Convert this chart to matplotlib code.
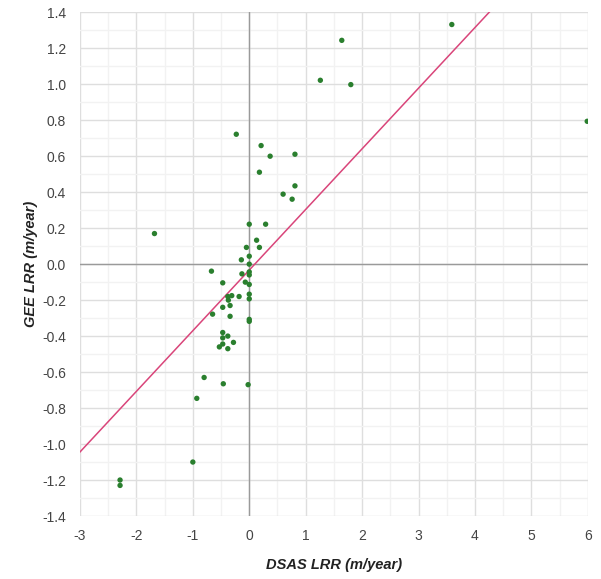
import matplotlib
matplotlib.use('Agg')
import matplotlib.pyplot as plt
from matplotlib.ticker import MultipleLocator

# DSAS LRR (x) vs GEE LRR (y), m/year
dsas_lrr = [
    -2.29, -2.29, -1.68, -1.00, -0.93, -0.80, -0.67, -0.65, -0.53, -0.47,
    -0.47, -0.47, -0.47, -0.47, -0.46, -0.38, -0.38, -0.38, -0.37, -0.34,
    -0.34, -0.31, -0.28, -0.23, -0.18, -0.14, -0.13, -0.07, -0.05, -0.02,
    0.0, 0.0, 0.0, 0.0, 0.0, 0.0, 0.0, 0.0, 0.0, 0.0,
    0.13, 0.18, 0.18, 0.21, 0.29, 0.37, 0.60, 0.76, 0.81, 0.81,
    1.26, 1.64, 1.80, 3.59, 5.99,
]
gee_lrr = [
    -1.20, -1.23, 0.17, -1.10, -0.746, -0.63, -0.039, -0.278, -0.46, -0.104,
    -0.24, -0.38, -0.41, -0.444, -0.665, -0.18, -0.40, -0.47, -0.20, -0.23,
    -0.29, -0.175, -0.435, 0.722, -0.18, 0.024, -0.054, -0.10, 0.093, -0.67,
    0.222, 0.044, 0.0, -0.043, -0.113, -0.167, -0.193, -0.307, -0.318, -0.06,
    0.133, 0.093, 0.511, 0.659, 0.222, 0.60, 0.389, 0.361, 0.611, 0.435,
    1.022, 1.244, 0.998, 1.332, 0.794,
]

# trendline shown on the chart
trend_slope = 0.337
trend_intercept = -0.033

x_ticks = [-3, -2, -1, 0, 1, 2, 3, 4, 5, 6]
y_ticks = [-1.4, -1.2, -1.0, -0.8, -0.6, -0.4, -0.2, 0.0, 0.2, 0.4, 0.6, 0.8, 1.0, 1.2, 1.4]

plt.rcParams['font.family'] = ['Liberation Sans', 'DejaVu Sans']
plt.rcParams['axes.unicode_minus'] = False

fig = plt.figure(figsize=(6.01, 5.79), dpi=100)
ax = fig.add_axes([0.1331, 0.1088, 0.8449, 0.87])

ax.set_xlim(-3, 6)
ax.set_ylim(-1.4, 1.4)
ax.set_xticks(x_ticks)
ax.set_yticks(y_ticks)
ax.set_yticklabels([f"{v:.1f}" for v in y_ticks])
ax.xaxis.set_minor_locator(MultipleLocator(0.5))
ax.yaxis.set_minor_locator(MultipleLocator(0.1))

ax.grid(which='major', color='#dedede', linewidth=1.0, zorder=0)
ax.grid(which='minor', color='#f2f2f2', linewidth=1.0, zorder=0)
ax.set_axisbelow(True)

for s in ax.spines.values():
    s.set_visible(False)
ax.tick_params(which='both', length=0)
ax.tick_params(axis='both', labelsize=10, labelcolor='#444444')
ax.tick_params(axis='x', pad=9)
ax.tick_params(axis='y', pad=10)

ax.axhline(0, color='#9a9a9a', linewidth=1.0, zorder=1)
ax.axvline(0, color='#9a9a9a', linewidth=1.0, zorder=1)

xs = [-3, 6]
ys = [trend_slope * v + trend_intercept for v in xs]
ax.plot(xs, ys, color='#d9457a', linewidth=1.1, zorder=2)

ax.scatter(dsas_lrr, gee_lrr, s=15, color='#2a7f2e', edgecolors='none', zorder=3)

ax.set_xlabel('DSAS LRR (m/year)', fontsize=10.5, fontweight='bold', fontstyle='italic',
              color='#222222', labelpad=11)
ax.set_ylabel('GEE LRR (m/year)', fontsize=10.5, fontweight='bold', fontstyle='italic',
              color='#222222', labelpad=3)

fig.savefig('out.png', dpi=100)
plt.close(fig)
